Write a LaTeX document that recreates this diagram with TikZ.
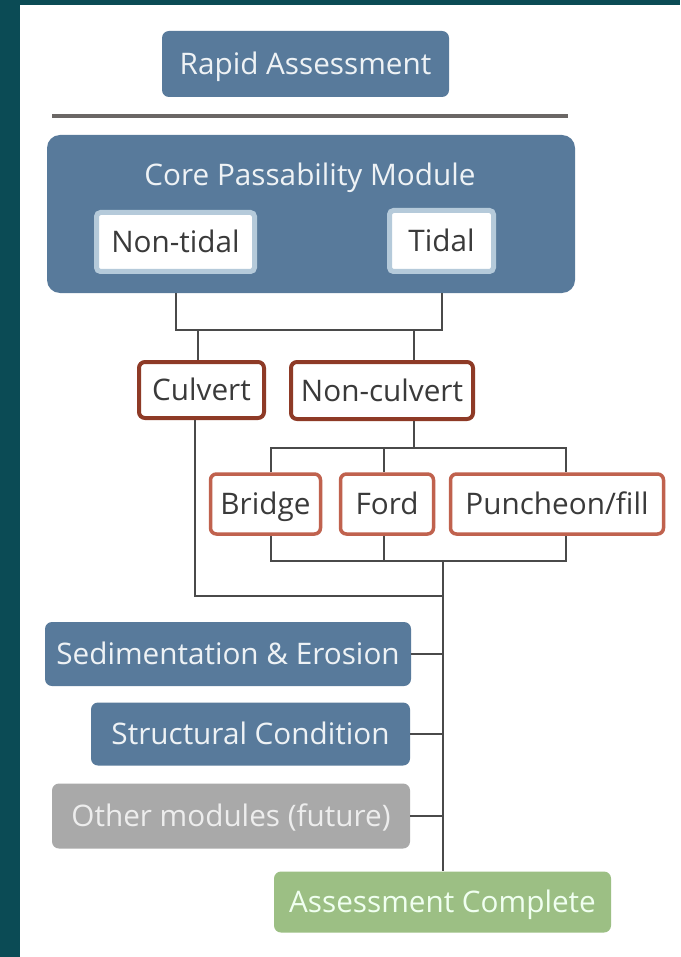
\documentclass[tikz,border=0pt]{standalone}
\usepackage{fontspec}
\setmainfont{Open Sans}
\definecolor{frameteal}{HTML}{0B4B55}
\definecolor{steel}{HTML}{587A9B}
\definecolor{paleblue}{HTML}{B5CADA}
\definecolor{darkbrick}{HTML}{8E3A26}
\definecolor{brick}{HTML}{C0624E}
\definecolor{greybox}{HTML}{A9A9A9}
\definecolor{sage}{HTML}{9CBF84}
\definecolor{wire}{HTML}{4A4A4A}
\definecolor{rule}{HTML}{6B6765}
\definecolor{ink}{HTML}{3A3A3A}
\definecolor{lighttext}{HTML}{EEF2F5}
\tikzset{
  lbl/.style={font=\fontsize{29.7}{31}\selectfont, inner sep=0pt, align=center,
              text height=21pt, text depth=0pt},
  bluebox/.style={lbl, fill=steel, text=lighttext, rounded corners=7pt},
  greybx/.style={lbl, fill=greybox, text=white!93!black, rounded corners=7pt},
  greenbx/.style={lbl, fill=sage, text=white!94!green, rounded corners=7pt},
  regimebox/.style={lbl, fill=white, draw=paleblue, line width=5pt, text=ink, rounded corners=4pt},
  typebox/.style={lbl, fill=white, draw=darkbrick, line width=4pt, text=ink, rounded corners=6pt},
  subtypebox/.style={lbl, fill=white, draw=brick, line width=3.5pt, text=ink, rounded corners=6pt},
  wireline/.style={draw=wire, line width=2pt},
}
\begin{document}
\begin{tikzpicture}[x=1pt, y=-1pt]
  % frame and page
  \fill[frameteal] (0,0) rectangle (680,957);
  \fill[white] (20,5) rectangle (680,957);
  \useasboundingbox (0,0) rectangle (680,957);

  % header
  \node[bluebox, minimum width=287pt, minimum height=66pt] (rapid) at (305.5,64) {Rapid Assessment};
  \draw[rule, line width=3.5pt] (52,116) coordinate (ruleL) -- (568,116) coordinate (ruleR);

  % core module
  \node[bluebox, rounded corners=13pt, minimum width=528pt, minimum height=158pt] (core) at (311,214) {};
  \node[lbl, text=lighttext] (coretitle) at (310,175) {Core Passability Module};
  \node[regimebox, minimum width=158pt, minimum height=59pt] (nontidal) at (175.5,242) {Non-tidal};
  \node[regimebox, minimum width=104pt, minimum height=61pt] (tidal) at (441.5,241) {Tidal};

  % crossing types
  \node[typebox, minimum width=125pt, minimum height=56pt] (culvert) at (201.5,390) {Culvert};
  \node[typebox, minimum width=182pt, minimum height=57pt] (noncul) at (382,390.5) {Non-culvert};
  \node[subtypebox, minimum width=110pt, minimum height=60pt] (bridge) at (265.5,504) {Bridge};
  \node[subtypebox, minimum width=93pt, minimum height=60pt] (ford) at (387,504) {Ford};
  \node[subtypebox, minimum width=213pt, minimum height=60pt] (punch) at (557,504) {Puncheon/fill};

  % additional modules
  \node[bluebox, minimum width=366pt, minimum height=64pt] (sed) at (228,654) {Sedimentation \& Erosion};
  \node[bluebox, minimum width=319pt, minimum height=63pt] (struct) at (250.5,734) {Structural Condition};
  \node[greybx, minimum width=358pt, minimum height=65pt] (other) at (231,816) {Other modules (future)};
  \node[greenbx, minimum width=337pt, minimum height=61pt] (done) at (442.5,902) {Assessment Complete};

  % bus coordinates
  \coordinate (busA) at (0,330);
  \coordinate (busB) at (0,448);
  \coordinate (busC) at (0,561);
  \coordinate (busD) at (0,596);
  \coordinate (culX) at (198,0);
  \coordinate (culDown) at (195,0);
  \coordinate (ncX) at (414,0);
  \coordinate (brX) at (271,0);
  \coordinate (foX) at (384,0);
  \coordinate (puX) at (566,0);
  \coordinate (trunk) at (443,0);

  % regime bus
  \draw[wireline] (nontidal |- core.south) -- (nontidal |- busA) -- (tidal |- busA) -- (tidal |- core.south);
  \draw[wireline] (culX |- busA) -- (culX |- culvert.north);
  \draw[wireline] (ncX |- busA) -- (ncX |- noncul.north);

  % non-culvert split
  \draw[wireline] (ncX |- noncul.south) -- (ncX |- busB);
  \draw[wireline] (brX |- bridge.north) -- (brX |- busB) -- (puX |- busB) -- (puX |- punch.north);
  \draw[wireline] (foX |- busB) -- (foX |- ford.north);

  % merge of sub-types
  \draw[wireline] (brX |- bridge.south) -- (brX |- busC) -- (puX |- busC) -- (puX |- punch.south);
  \draw[wireline] (foX |- ford.south) -- (foX |- busC);

  % culvert path joins the trunk
  \draw[wireline] (culDown |- culvert.south) -- (culDown |- busD) -- (trunk |- busD);

  % trunk to completion
  \draw[wireline] (trunk |- busC) -- (trunk |- done.north);
  \draw[wireline] (sed.east) -- (trunk |- sed.east);
  \draw[wireline] (struct.east) -- (trunk |- struct.east);
  \draw[wireline] (other.east) -- (trunk |- other.east);
\end{tikzpicture}
\end{document}
